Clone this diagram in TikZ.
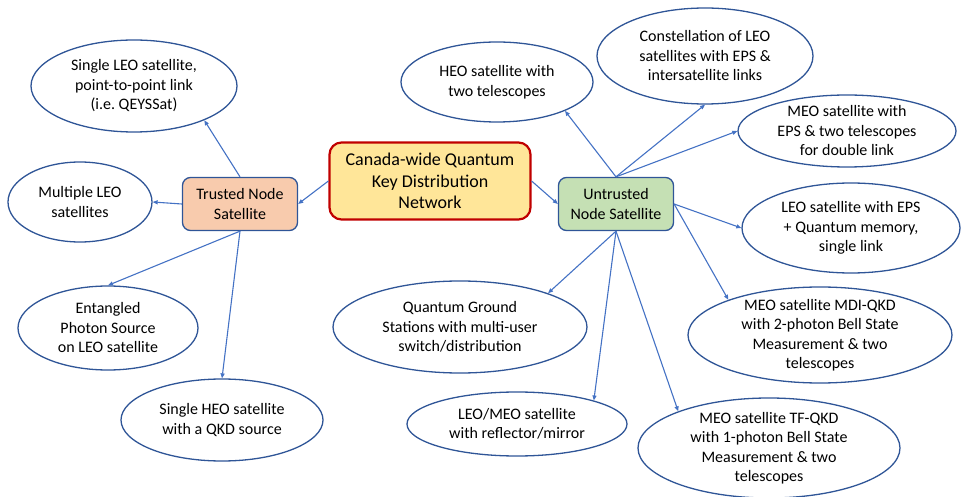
\documentclass[tikz,border=0pt]{standalone}
\usepackage{fontspec}
\setmainfont{Carlito}
\usetikzlibrary{arrows.meta,shapes.geometric}
\definecolor{edgeblue}{HTML}{2F5597}
\definecolor{linkblue}{HTML}{4472C4}
\definecolor{hubred}{HTML}{C00000}
\definecolor{hubfill}{HTML}{FFE699}
\definecolor{trustfill}{HTML}{F8CBAD}
\definecolor{untrustfill}{HTML}{C5E0B4}
\begin{document}
\begin{tikzpicture}[x=1pt,y=-1pt,
  every node/.style={font=\fontsize{16}{19.5}\selectfont, align=center, text=black},
  option/.style={ellipse, draw=edgeblue, line width=1.3pt, fill=white, inner sep=-14pt},
  hub/.style={rectangle, rounded corners=12pt, draw=hubred, line width=2.2pt, fill=hubfill,
    minimum width=201pt, minimum height=77pt, inner sep=2pt, font=\fontsize{18}{21.5}\selectfont},
  branch/.style={rectangle, rounded corners=8pt, draw=edgeblue, line width=1.3pt,
    minimum width=115pt, minimum height=53pt, inner sep=2pt},
  link/.style={draw=linkblue, line width=1.1pt, -{Triangle[length=5pt,width=4pt]}}
]
\useasboundingbox (0,0) rectangle (962,497);

% central network box and its two families
\node[hub] (hub) at (430,181) {Canada-wide Quantum\\Key Distribution\\Network};
\node[branch, fill=trustfill] (trusted) at (240,204) {Trusted Node\\Satellite};
\node[branch, fill=untrustfill] (untrusted) at (616,204) {Untrusted\\Node Satellite};

% trusted-node options
\node[option, minimum width=206pt, minimum height=92pt] (sleo) at (134,86) {Single LEO satellite,\\point-to-point link\\(i.e.\ QEYSSat)};
\node[option, minimum width=144pt, minimum height=80pt] (mleo) at (80,202) {Multiple LEO\\satellites};
\node[option, minimum width=180pt, minimum height=84pt] (ent) at (108,328) {Entangled\\Photon Source\\on LEO satellite};
\node[option, minimum width=202pt, minimum height=82pt] (shq) at (222,420) {Single HEO satellite\\with a QKD source};

% untrusted-node options
\node[option, minimum width=192pt, minimum height=80pt] (heo) at (497,82) {HEO satellite with\\two telescopes};
\node[option, minimum width=216pt, minimum height=96pt] (const) at (705,56) {Constellation of LEO\\satellites with EPS \&\\intersatellite links};
\node[option, minimum width=218pt, minimum height=72pt] (meo) at (847,131) {MEO satellite with\\EPS \& two telescopes\\for double link};
\node[option, minimum width=218pt, minimum height=90pt] (leoeps) at (851,228) {LEO satellite with EPS\\+ Quantum memory,\\single link};
\node[option, minimum width=264pt, minimum height=96pt] (mdi) at (820,335) {MEO satellite MDI-QKD\\with 2-photon Bell State\\Measurement \& two\\telescopes};
\node[option, minimum width=254pt, minimum height=92pt] (ground) at (460,327) {Quantum Ground\\Stations with multi-user\\switch/distribution};
\node[option, minimum width=220pt, minimum height=64pt] (refl) at (517,424) {LEO/MEO satellite\\with reflector/mirror};
\node[option, minimum width=262pt, minimum height=100pt] (tf) at (769,448) {MEO satellite TF-QKD\\with 1-photon Bell State\\Measurement \& two\\telescopes};

% connectors
\draw[link] (hub.west) -- (trusted.east);
\draw[link] (hub.east) -- (untrusted.west);

\draw[link] (trusted.north) -- (sleo.-26);
\draw[link] (trusted.west) -- (mleo.east);
\draw[link] (trusted.south) -- (ent.north);
\draw[link] (trusted.south) -- (shq.north);

\draw[link] (untrusted.north) -- (heo.-23);
\draw[link] (untrusted.north) -- (const.south);
\draw[link] (untrusted.north) -- (meo.west);
\draw[link] (untrusted.east) -- (leoeps.west);
\draw[link] (untrusted.east) -- (mdi.159);
\draw[link] (untrusted.south) -- (ground.21);
\draw[link] (untrusted.south) -- (refl.17);
\draw[link] (untrusted.south) -- (tf.158);
\end{tikzpicture}
\end{document}
